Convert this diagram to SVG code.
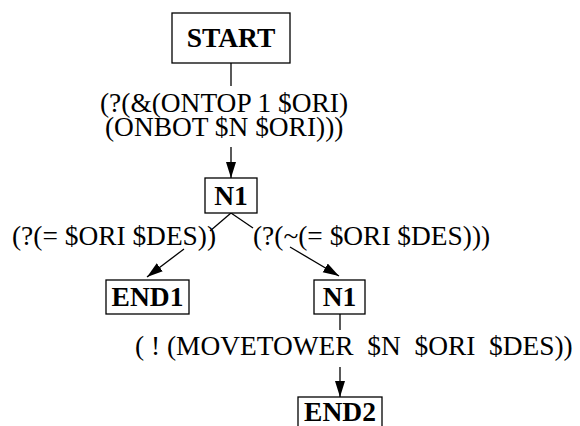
<svg xmlns="http://www.w3.org/2000/svg" width="580" height="426" viewBox="0 0 580 426">
<style>
.box{fill:#fff;stroke:#000;stroke-width:1.3}
.nl{font-family:"Liberation Serif","Times New Roman",serif;font-weight:bold;font-size:27.5px;text-anchor:middle;fill:#000}
.el{font-family:"Liberation Serif","Times New Roman",serif;font-size:27.4px;fill:#000;white-space:pre}
.ln{stroke:#000;stroke-width:1.3;fill:none}
</style>
<defs>
<marker id="ah" markerUnits="userSpaceOnUse" markerWidth="18" markerHeight="12" refX="16" refY="5" orient="auto">
<path d="M0,0 L16,5 L0,10 Z" fill="#000"/>
</marker>
</defs>
<rect width="580" height="426" fill="#fff"/>
<g id="connectors">
<line class="ln" x1="231" y1="63" x2="231" y2="86"/>
<line class="ln" x1="231" y1="147" x2="231" y2="178" marker-end="url(#ah)"/>
<line class="ln" x1="231" y1="213" x2="210" y2="231"/>
<line class="ln" x1="184" y1="249" x2="147" y2="277" marker-end="url(#ah)"/>
<line class="ln" x1="231" y1="213" x2="253" y2="228"/>
<line class="ln" x1="290" y1="247" x2="339" y2="276" marker-end="url(#ah)"/>
<line class="ln" x1="340" y1="314" x2="340" y2="330"/>
<line class="ln" x1="340" y1="367" x2="340" y2="397" marker-end="url(#ah)"/>
<text class="el"><tspan x="100" y="112">(?(&amp;(ONTOP 1 $ORI)</tspan><tspan x="105" y="136">(ONBOT $N $ORI)))</tspan></text>
<text class="el" x="12" y="245">(?(= $ORI $DES))</text>
<text class="el" x="253" y="245">(?(~(= $ORI $DES)))</text>
<text class="el" x="135" y="355" xml:space="preserve">( ! (MOVETOWER  $N  $ORI  $DES))</text>
</g>
<g id="start">
<rect class="box" x="172" y="13" width="118" height="50"/>
<text class="nl" x="231" y="47">START</text>
</g>
<g id="n1">
<rect class="box" x="205" y="178" width="52" height="35"/>
<text class="nl" x="231" y="205">N1</text>
</g>
<g id="end1">
<rect class="box" x="106" y="280" width="83" height="34"/>
<text class="nl" x="147.5" y="306">END1</text>
</g>
<g id="n1b">
<rect class="box" x="314" y="280" width="51" height="34"/>
<text class="nl" x="339.5" y="306">N1</text>
</g>
<g id="end2">
<rect class="box" x="298" y="397" width="84" height="34"/>
<text class="nl" x="340" y="421">END2</text>
</g>
</svg>
